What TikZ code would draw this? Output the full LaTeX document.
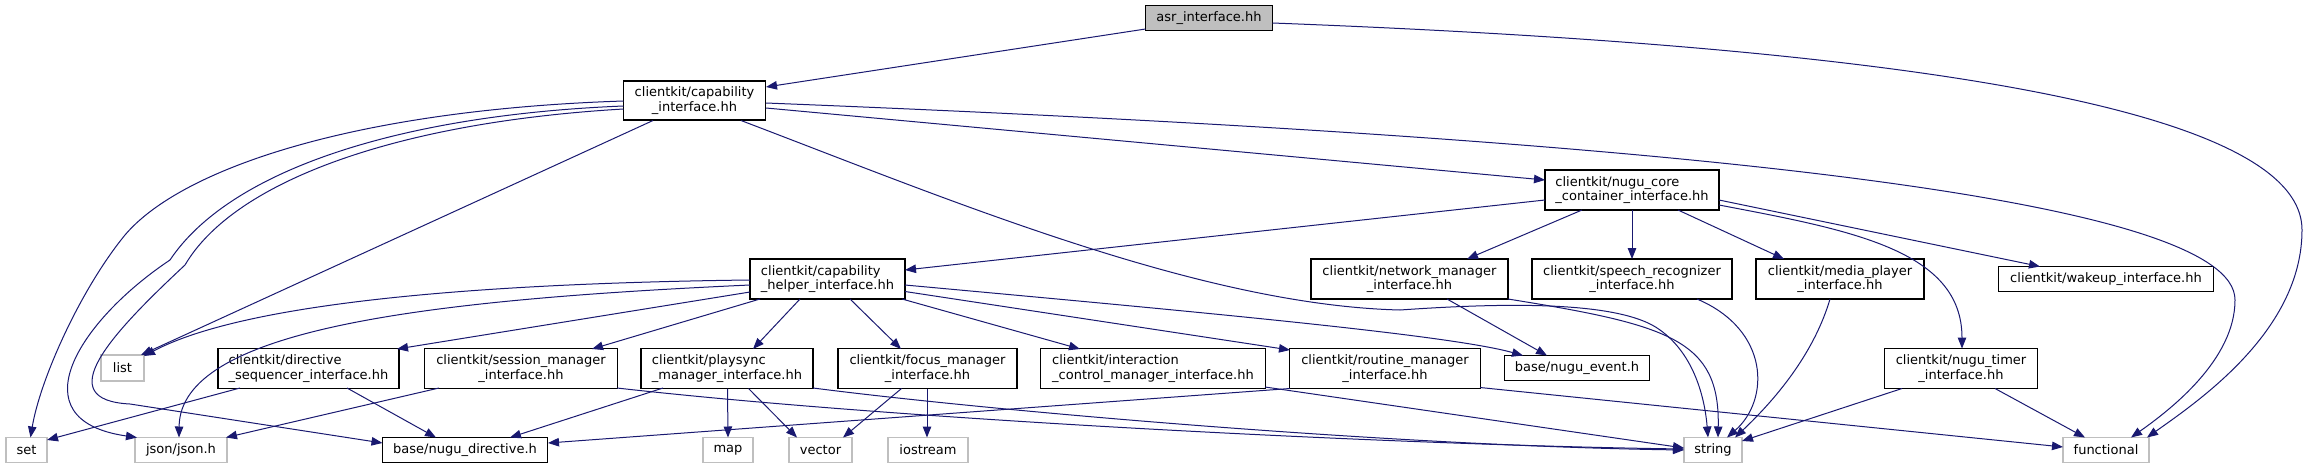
\documentclass[tikz,border=0pt]{standalone}
\usepackage{fontspec}
\setmainfont{DejaVu Sans}
\usetikzlibrary{arrows.meta,calc}
\definecolor{edgec}{HTML}{191970}
\definecolor{leafc}{HTML}{BFBFBF}
\tikzset{
  nd/.style={draw=black, line width=1.1pt, rectangle, inner sep=0pt, minimum height=40pt,
    font=\fontsize{13}{14.7}\selectfont, align=center, text=black},
  nl/.style={nd, align=left},
  one/.style={minimum height=25pt},
  lf/.style={nd, draw=leafc, minimum height=25pt},
  e/.style={draw=edgec, line width=1pt, -{Triangle[length=11pt,width=8.5pt]}},
}
\begin{document}
\begin{tikzpicture}[x=1pt,y=-1pt]
\useasboundingbox (0,0) rectangle (2308,469);
% nodes
\node[nd, one, fill=leafc, minimum width=127pt] (asr) at (1209,18) {asr\_interface.hh};
\node[nd, minimum width=142pt, minimum height=39pt] (capint) at (694.5,100.5) {clientkit/capability\\\_interface.hh};
\node[nl, minimum width=174pt] (core) at (1632,190) {clientkit/nugu\_core\\\_container\_interface.hh};
\node[nl, minimum width=155pt] (helper) at (827.5,279) {clientkit/capability\\\_helper\_interface.hh};
\node[nd, minimum width=197pt] (net) at (1409.5,279) {clientkit/network\_manager\\\_interface.hh};
\node[nd, minimum width=200pt] (speech) at (1632,279) {clientkit/speech\_recognizer\\\_interface.hh};
\node[nd, minimum width=168pt] (media) at (1840,279) {clientkit/media\_player\\\_interface.hh};
\node[nd, one, minimum width=215pt] (wake) at (2106,279) {clientkit/wakeup\_interface.hh};
\node[lf, minimum width=43pt, minimum height=26pt] (list) at (122.5,368) {list};
\node[nl, minimum width=181pt] (dirseq) at (308.5,368.5) {clientkit/directive\\\_sequencer\_interface.hh};
\node[nd, minimum width=193pt] (session) at (521,368.5) {clientkit/session\_manager\\\_interface.hh};
\node[nl, minimum width=172pt] (playsync) at (727,368.5) {clientkit/playsync\\\_manager\_interface.hh};
\node[nd, minimum width=179pt] (focus) at (927.5,368.5) {clientkit/focus\_manager\\\_interface.hh};
\node[nl, minimum width=225pt] (inter) at (1153,368.5) {clientkit/interaction\\\_control\_manager\_interface.hh};
\node[nd, minimum width=191pt] (routine) at (1385,368.5) {clientkit/routine\_manager\\\_interface.hh};
\node[nd, one, minimum width=145pt] (event) at (1577,368) {base/nugu\_event.h};
\node[nd, minimum width=153pt] (timer) at (1961,368.5) {clientkit/nugu\_timer\\\_interface.hh};
\node[lf, minimum width=41pt] (set) at (26.5,450) {set};
\node[lf, minimum width=92pt] (json) at (181,450) {json/json.h};
\node[nd, one, minimum width=165pt] (dirh) at (465,450) {base/nugu\_directive.h};
\node[lf, minimum width=50pt] (map) at (728,450) {map};
\node[lf, minimum width=63pt] (vector) at (820.5,450) {vector};
\node[lf, minimum width=80pt] (iostream) at (928,450) {iostream};
\node[lf, minimum width=58pt] (string) at (1713,450) {string};
\node[lf, minimum width=86pt] (func) at (2106,450) {functional};
% edges
\draw[e] ($(asr)+(-63.5,11)$) -- ($(capint)+(71.5,-13.5)$);
\draw[e] ($(asr)+(63.5,5)$) .. controls (1850,45) and (2302,100) .. (2302,230)
   .. controls (2302,330) and (2200,400) .. ($(func)+(41,-12.5)$);
\draw[e] ($(capint)+(-71,0.5)$) .. controls (350,110) and (180,170) .. (125,235)
   .. controls (80,290) and (40,380) .. ($(set)+(4,-12.5)$);
\draw[e] ($(capint)+(-71,5.5)$) .. controls (400,115) and (230,170) .. (170,260)
   .. controls (80,320) and (15,420) .. ($(json)+(-44,-12.5)$);
\draw[e] ($(capint)+(-71,8.5)$) .. controls (400,122) and (235,180) .. (185,265)
   .. controls (110,335) and (50,400) .. (130,404) -- ($(dirh)+(-82.5,-7)$);
\draw[e] ($(capint)+(-41.5,20)$) -- ($(list)+(18.5,-13)$);
\draw[e] ($(capint)+(46.5,20)$) .. controls (950,200) and (1200,305) .. (1400,310)
   .. controls (1500,303) and (1620,300) .. (1660,330)
   .. controls (1695,355) and (1705,400) .. ($(string)+(-5,-12.5)$);
\draw[e] ($(capint)+(71.5,7.5)$) -- ($(core)+(-87,-10)$);
\draw[e] ($(capint)+(71.5,2.5)$) .. controls (1700,140) and (2235,200) .. (2235,300)
   .. controls (2235,360) and (2170,410) .. ($(func)+(25,-12.5)$);
\draw[e] ($(core)+(-87,10)$) -- ($(helper)+(77.5,-9)$);
\draw[e] ($(core)+(-50,20)$) -- ($(net)+(57.5,-20)$);
\draw[e] ($(core)+(0,20)$) -- ($(speech)+(0,-20)$);
\draw[e] ($(core)+(46,20)$) -- ($(media)+(-56,-20)$);
\draw[e] ($(core)+(87,10)$) -- ($(wake)+(-66,-12.5)$);
\draw[e] ($(core)+(87,15)$) .. controls (1850,230) and (1962,250) .. ($(timer)+(1,-20)$);
\draw[e] ($(helper)+(-77.5,1)$) .. controls (500,283) and (250,300) .. ($(list)+(21.5,-12)$);
\draw[e] ($(helper)+(-77.5,6)$) .. controls (420,300) and (180,330) .. ($(json)+(-2,-12.5)$);
\draw[e] ($(helper)+(-77.5,13)$) -- ($(dirseq)+(88.5,-19.5)$);
\draw[e] ($(helper)+(-67.5,20)$) -- ($(session)+(71,-19.5)$);
\draw[e] ($(helper)+(-27.5,20)$) -- ($(playsync)+(26,-19.5)$);
\draw[e] ($(helper)+(22.5,20)$) -- ($(focus)+(-26.5,-19.5)$);
\draw[e] ($(helper)+(74.5,20)$) -- ($(inter)+(-73,-19.5)$);
\draw[e] ($(helper)+(77.5,12.5)$) -- ($(routine)+(-95,-18.5)$);
\draw[e] ($(helper)+(77.5,6)$) .. controls (1200,312) and (1450,335) .. ($(event)+(-54,-12.5)$);
\draw[e] ($(net)+(37.5,20)$) -- ($(event)+(-30,-12.5)$);
\draw[e] ($(net)+(98.5,20)$) .. controls (1670,325) and (1720,340) .. ($(string)+(5,-12.5)$);
\draw[e] ($(speech)+(65,20)$) .. controls (1770,330) and (1770,400) .. ($(string)+(14,-12.5)$);
\draw[e] ($(media)+(-10,20)$) .. controls (1815,350) and (1780,395) .. ($(string)+(22,-12.5)$);
\draw[e] ($(timer)+(-59,20)$) -- ($(string)+(29,-9)$);
\draw[e] ($(timer)+(34,20)$) -- ($(func)+(-21,-12.5)$);
\draw[e] ($(routine)+(95,19)$) -- ($(func)+(-43,-3)$);
\draw[e] ($(routine)+(-95,20)$) -- ($(dirh)+(83,-7)$);
\draw[e] ($(inter)+(112,18.5)$) -- ($(string)+(-29,-2)$);
\draw[e] ($(session)+(96,19.5)$) .. controls (900,420) and (1400,445) .. ($(string)+(-29,-1)$);
\draw[e] ($(playsync)+(86,19.5)$) .. controls (1000,412) and (1400,446) .. ($(string)+(-29,0)$);
\draw[e] ($(dirseq)+(-68.5,19.5)$) -- ($(set)+(20.5,-10)$);
\draw[e] ($(dirseq)+(38.5,19.5)$) -- ($(dirh)+(-29,-12.5)$);
\draw[e] ($(session)+(-82,19.5)$) -- ($(json)+(45,-12.5)$);
\draw[e] ($(playsync)+(-64,19.5)$) -- ($(dirh)+(45,-12.5)$);
\draw[e] ($(playsync)+(0.5,20)$) -- ($(map)+(0,-12.5)$);
\draw[e] ($(playsync)+(21.5,20)$) -- ($(vector)+(-23.5,-12.5)$);
\draw[e] ($(focus)+(-26,20)$) -- ($(vector)+(22.5,-12.5)$);
\draw[e] ($(focus)+(-0.5,20)$) -- ($(iostream)+(-1,-12.5)$);
\end{tikzpicture}
\end{document}
